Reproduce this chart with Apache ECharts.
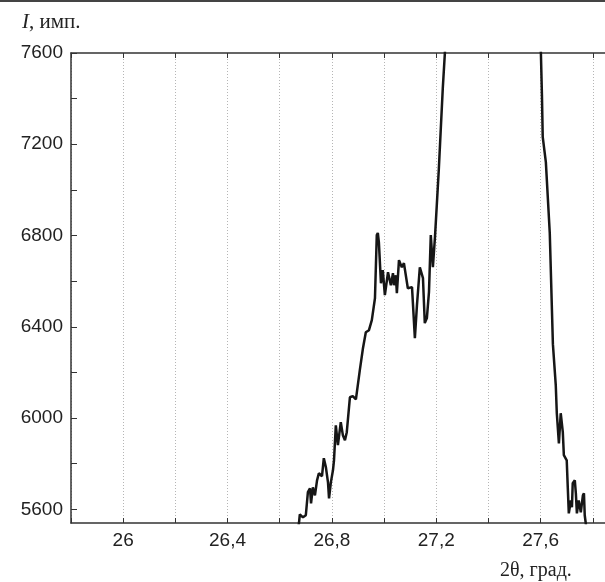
<!DOCTYPE html>
<html>
<head>
<meta charset="utf-8">
<script src="https://cdn.jsdelivr.net/npm/echarts@6/dist/echarts.min.js"></script>
<style>
  html, body { margin: 0; padding: 0; background: #fff; }
  #chart { width: 605px; height: 582px; }
</style>
</head>
<body>
<div id="chart"></div>
<script>
// 2θ (deg) and intensity (counts)
const theta = [
  26.670, 26.674, 26.677, 26.689, 26.700, 26.708, 26.716, 26.720, 26.727, 26.735,
  26.743, 26.750, 26.762, 26.769, 26.777, 26.785, 26.789, 26.796, 26.804, 26.808,
  26.815, 26.823, 26.834, 26.842, 26.850, 26.857, 26.869, 26.880, 26.892, 26.907,
  26.919, 26.930, 26.942, 26.953, 26.965, 26.972, 26.976, 26.980, 26.988, 26.995,
  27.003, 27.015, 27.026, 27.034, 27.038, 27.045, 27.049, 27.057, 27.068, 27.076,
  27.091, 27.107, 27.118, 27.126, 27.137, 27.149, 27.156, 27.164, 27.172, 27.179,
  27.187, 27.195, 27.202, 27.210, 27.218, 27.225, 27.233, 27.237,
  27.597, 27.601, 27.605, 27.608, 27.620, 27.635, 27.647, 27.658, 27.662, 27.670,
  27.677, 27.685, 27.689, 27.700, 27.704, 27.708, 27.716, 27.720, 27.723, 27.731,
  27.735, 27.739, 27.746, 27.754, 27.762, 27.766, 27.769, 27.773, 27.777
];
const counts = [
  5508, 5543, 5578, 5565, 5574, 5675, 5692, 5626, 5696, 5661,
  5727, 5758, 5745, 5824, 5784, 5718, 5648, 5718, 5771, 5815,
  5968, 5881, 5982, 5925, 5903, 5938, 6091, 6096, 6082, 6210,
  6306, 6376, 6385, 6429, 6525, 6802, 6811, 6771, 6591, 6648,
  6539, 6639, 6582, 6635, 6582, 6626, 6547, 6692, 6661, 6679,
  6569, 6574, 6350, 6495, 6661, 6613, 6416, 6438, 6552, 6802,
  6661, 6793, 6933, 7096, 7284, 7446, 7600, 7700,
  7700, 7600, 7416, 7232, 7122, 6811, 6324, 6144, 6021, 5889,
  6021, 5938, 5837, 5815, 5696, 5582, 5639, 5609, 5714, 5727,
  5670, 5582, 5639, 5587, 5661, 5670, 5574, 5539, 5486
];
const yTickValues = [5600, 5800, 6000, 6200, 6400, 6600, 6800, 7000, 7200, 7400, 7600];
const yLabelValues = [5600, 6000, 6400, 6800, 7200, 7600];
const xLabelValues = [26, 26.4, 26.8, 27.2, 27.6];

const sans = "'Liberation Sans', Arial, sans-serif";
const serif = "'Liberation Serif', 'Times New Roman', serif";
const axisColor = '#333';

const chart = echarts.init(document.getElementById('chart'));

const fmtX = (v) => {
  const hit = xLabelValues.some((t) => Math.abs(t - v) < 1e-6);
  return hit ? String(Math.round(v * 10) / 10).replace('.', ',') : '';
};

chart.setOption({
  animation: false,
  backgroundColor: '#fff',
  title: [
    {
      text: '{i|I}, имп.',
      left: 22, top: 12, padding: 0,
      textStyle: {
        fontFamily: serif, fontSize: 21, fontWeight: 'normal', color: '#222',
        rich: { i: { fontFamily: serif, fontSize: 21, fontStyle: 'italic', color: '#222' } }
      }
    },
    {
      text: '2θ, град.',
      left: 500, top: 561, padding: 0,
      textStyle: { fontFamily: serif, fontSize: 20, fontWeight: 'normal', color: '#222' }
    }
  ],
  graphic: [
    { type: 'rect', left: 0, top: 0, shape: { width: 605, height: 2 }, style: { fill: '#444' } }
  ],
  grid: { left: 71, top: 53, bottom: 59, right: -40, containLabel: false, outerBoundsMode: 'none' },
  xAxis: [
    {
      type: 'value', min: 25.8, max: 28.0, interval: 0.2,
      axisLine: { lineStyle: { color: axisColor, width: 1.5 } },
      axisTick: { inside: true, length: 5, lineStyle: { color: axisColor } },
      axisLabel: { formatter: fmtX, fontFamily: sans, fontSize: 19, color: '#222', margin: 8 },
      splitLine: { show: true, lineStyle: { color: '#b5b5b5', type: [1, 2], width: 1 } }
    },
    {
      type: 'value', position: 'top', min: 25.8, max: 28.0, interval: 0.2,
      axisLine: { lineStyle: { color: axisColor, width: 1.5 } },
      axisTick: { inside: true, length: 5, lineStyle: { color: axisColor } },
      axisLabel: { show: false },
      splitLine: { show: false }
    }
  ],
  yAxis: {
    type: 'value', min: 5540, max: 7600,
    axisLine: { show: true, lineStyle: { color: axisColor, width: 1.5 } },
    axisTick: { show: true, inside: true, length: 6, customValues: yTickValues, lineStyle: { color: axisColor } },
    axisLabel: {
      customValues: yLabelValues, formatter: (v) => String(v),
      fontFamily: sans, fontSize: 19, color: '#222', margin: 8
    },
    splitLine: { show: false }
  },
  series: [
    {
      type: 'line',
      data: theta.map((t, i) => [t, counts[i]]),
      showSymbol: false,
      clip: true,
      lineStyle: { color: '#161616', width: 2.5 }
    }
  ]
});
</script>
</body>
</html>
